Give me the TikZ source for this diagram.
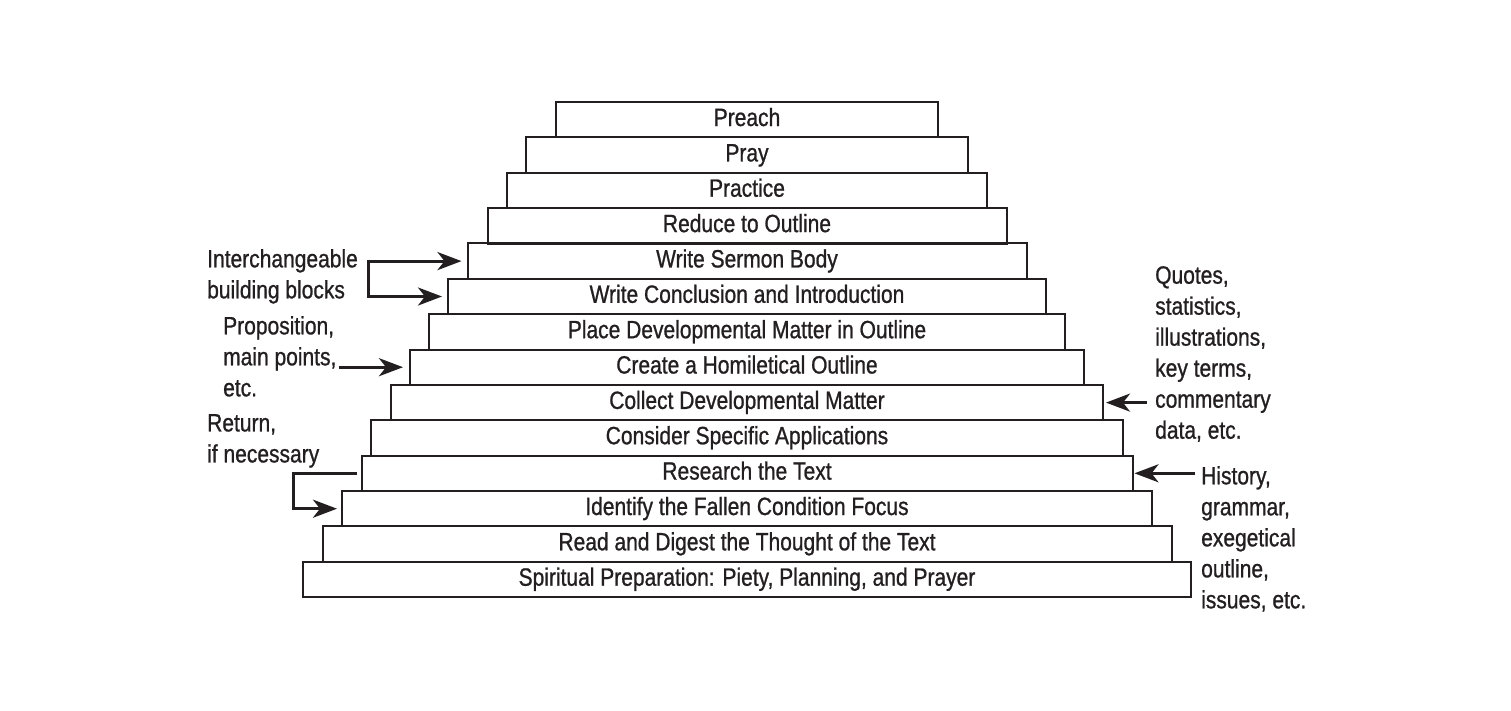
\documentclass[tikz,border=0pt]{standalone}
\usepackage{fontspec}
\setmainfont{Liberation Sans}[FakeStretch=0.84,FakeBold=0.9]
\usepackage{xcolor}
\usepackage{tikz}
\usetikzlibrary{arrows.meta}
\definecolor{ink}{HTML}{231F20}
\newcommand\steptext{\fontsize{25}{31}\selectfont}
\tikzset{
  stepbox/.style={draw=ink, line width=2pt, minimum height=35.4pt, inner sep=0pt,
    text height=18.6pt, text depth=6pt, text=ink, font=\steptext},
  side/.style={text=ink, inner sep=0pt, align=left, anchor=north west, font=\steptext},
  arr/.style={draw=ink, line width=3pt, line join=miter, -{Stealth[length=24pt,width=18pt,inset=7pt]}},
}

\begin{document}
\begin{tikzpicture}[x=1pt,y=-1pt]
  \useasboundingbox (0,0) rectangle (1511,710);

  % the staircase, top to bottom
  \node[stepbox, minimum width=382pt] (preach)   at (747,119.7) {Preach};
  \node[stepbox, minimum width=442pt] (pray)     at (747,155.1) {Pray};
  \node[stepbox, minimum width=480pt] (practice) at (747,190.4) {Practice};
  \node[stepbox, minimum width=519pt] (reduce)   at (747,225.8) {Reduce to Outline};
  \node[stepbox, minimum width=559pt] (body)     at (747,261.1) {Write Sermon Body};
  \node[stepbox, minimum width=598pt] (concl)    at (747,296.5) {Write Conclusion and Introduction};
  \node[stepbox, minimum width=636pt] (place)    at (747,331.9) {Place Developmental Matter in Outline};
  \node[stepbox, minimum width=674pt] (homout)   at (747,367.2) {Create a Homiletical Outline};
  \node[stepbox, minimum width=712pt] (collect)  at (747,402.6) {Collect Developmental Matter};
  \node[stepbox, minimum width=752pt] (apply)    at (747,437.9) {Consider Specific Applications};
  \node[stepbox, minimum width=771pt] (research) at (747,473.3) {Research the Text};
  \node[stepbox, minimum width=810pt] (fcf)      at (747,508.7) {Identify the Fallen Condition Focus};
  \node[stepbox, minimum width=849pt] (digest)   at (747,544.0) {Read and Digest the Thought of the Text};
  \node[stepbox, minimum width=888pt] (spirit)   at (747,579.4) {Spiritual Preparation: Piety, Planning, and Prayer};

  % side notes
  \node[side] (blocks)  at (207,249) {Interchangeable\\building blocks};
  \node[side] (prop)    at (223,316) {Proposition,\\main points,\\etc.};
  \node[side] (ret)     at (207,414) {Return,\\if necessary};
  \node[side] (quotes)  at (1155,266) {Quotes,\\statistics,\\illustrations,\\key terms,\\commentary\\data, etc.};
  \node[side] (history) at (1201,466) {History,\\grammar,\\exegetical\\outline,\\issues, etc.};

  % connectors
  \coordinate (brk) at (368,278);
  \draw[arr] (brk) |- ([xshift=-5pt]body.west);
  \draw[arr] (brk) |- ([xshift=-5pt]concl.west);
  \draw[arr] ([xshift=2pt]prop.east |- homout.west) -- ([xshift=-6pt]homout.west);
  \coordinate (back) at (293,491);
  \draw[arr] ([xshift=-4pt]research.west) -| (back) |- ([xshift=-4pt]fcf.west);
  \draw[arr] ([xshift=-8pt]quotes.west |- collect.east) -- ([xshift=2pt]collect.east);
  \draw[arr] ([xshift=-6pt]history.west |- research.east) -- ([xshift=1pt]research.east);
\end{tikzpicture}
\end{document}
